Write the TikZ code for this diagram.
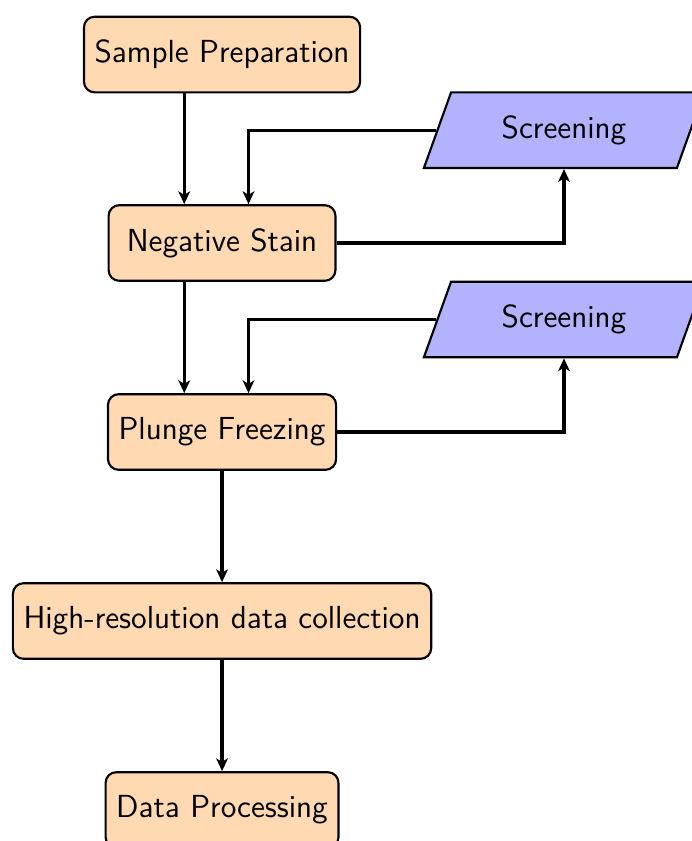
\documentclass[tikz,border=0pt]{standalone}
\usetikzlibrary{shapes.geometric,arrows.meta,calc}
\begin{document}
\begin{tikzpicture}[
  font=\fontsize{12}{14.5}\selectfont\sffamily,
  process/.style={rectangle, rounded corners=4pt, draw=black, line width=0.8pt,
    fill=orange!30, minimum width=3cm, minimum height=1cm, inner xsep=4pt},
  screenbox/.style={trapezium, trapezium left angle=70, trapezium right angle=110,
    trapezium stretches=true, draw=black, line width=0.8pt, fill=blue!30,
    minimum width=3.72cm, minimum height=1cm},
  flow/.style={line width=1.2pt, -{Stealth[length=4.8pt,width=4.4pt,inset=1.3pt]}}
]
% fixed frame of the page
\useasboundingbox (0,0) rectangle (9.153,-11.124);

% main column
\node[process] (prep)   at (2.937,-0.721)  {Sample Preparation};
\node[process] (stain)  at (2.937,-3.214)  {Negative Stain};
\node[process] (freeze) at (2.937,-5.714)  {Plunge Freezing};
\node[process] (hires)  at (2.937,-8.214)  {High-resolution data collection};
\node[process] (proc)   at (2.937,-10.714) {Data Processing};

% screening steps
\node[screenbox] (scrA) at (7.46,-1.722) {Screening};
\node[screenbox] (scrB) at (7.46,-4.226) {Screening};

% straight flow
\draw[flow] ($(prep.south)+(-0.5,0)$) -- ($(stain.north)+(-0.5,0)$);
\draw[flow] ($(stain.south)+(-0.5,0)$) -- ($(freeze.north)+(-0.5,0)$);
\draw[flow] (freeze) -- (hires);
\draw[flow] (hires) -- (proc);

% screening loops
\draw[flow] (stain.east) -| (scrA.south);
\draw[flow] (scrA.west) -| ($(stain.north)+(0.35,0)$);
\draw[flow] (freeze.east) -| (scrB.south);
\draw[flow] (scrB.west) -| ($(freeze.north)+(0.35,0)$);
\end{tikzpicture}
\end{document}
